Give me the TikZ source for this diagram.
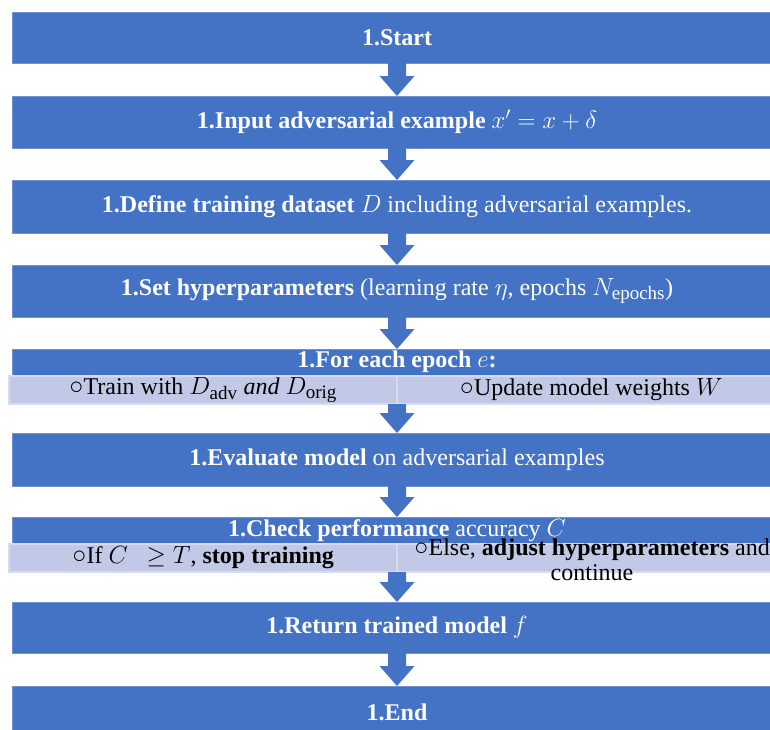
\documentclass[tikz,border=0pt]{standalone}
\usepackage{fontspec}
\usepackage{amsmath}
\setmainfont{Liberation Serif}
\usetikzlibrary{calc}
\definecolor{boxblue}{HTML}{4472C4}
\definecolor{boxedge}{HTML}{6F91D0}
\definecolor{subfill}{HTML}{C1C9E6}
\definecolor{subedge}{HTML}{D6DCF0}
\newcommand{\blockarrow}[2]{%
  \fill[boxblue] ($(#1)+(-9,0)$) -- ($(#2)+(-9,-20)$) -- ($(#2)+(-17.5,-20)$) -- (#2)
    -- ($(#2)+(17.5,-20)$) -- ($(#2)+(9,-20)$) -- ($(#1)+(9,0)$) -- cycle;}
\begin{document}
\begin{tikzpicture}[x=1pt,y=-1pt,
  every node/.style={font=\fontsize{24}{25}\selectfont, inner sep=0pt, outer sep=0pt},
  mainbox/.style={fill=boxblue, draw=boxedge, line width=0.6pt, minimum width=770pt, text=white, anchor=center},
  subcell/.style={fill=subfill, draw=subedge, line width=1.5pt, minimum width=388pt, minimum height=28pt, text=black, anchor=center},
  subtext/.style={text=black, align=center, anchor=center}]
\useasboundingbox (0,0) rectangle (770,729);
\clip (0,0) rectangle (770,729);

\node[mainbox, minimum height=51pt] (b1) at (397,37.5) {\textbf{1.Start}};
\node[mainbox, minimum height=52pt] (b2) at (397,122) {\textbf{1.Input adversarial example} $x' = x + \delta$};
\node[mainbox, minimum height=53pt] (b3) at (397,206.5) {\textbf{1.Define training dataset} $D$ including adversarial examples.};
\node[mainbox, minimum height=52pt] (b4) at (397,291) {\textbf{1.Set hyperparameters} (learning rate $\eta$, epochs $N_{\text{\fontsize{19}{19}\selectfont epochs}}$)};
\node[mainbox, minimum height=26pt] (b5) at (397,362) {\textbf{1.For each epoch} $e$\textbf{:}};
\node[mainbox, minimum height=53pt] (b6) at (397,459.5) {\textbf{1.Evaluate model} on adversarial examples};
\node[mainbox, minimum height=27pt] (b7) at (397,530.5) {\textbf{1.Check performance} accuracy $C$};
\node[mainbox, minimum height=51pt] (b8) at (397,627.5) {\textbf{1.Return trained model} $f$};
\node[mainbox, minimum height=52pt] (b9) at (397,712) {\textbf{1.End}};

\node[subcell] (s5l) at (203,390) {○Train with $D_{\text{\fontsize{19}{19}\selectfont adv}}$ $\mathit{and}$ $D_{\text{\fontsize{19}{19}\selectfont orig}}$};
\node[subcell] (s5r) at (591,390) {○Update model weights $W$};
\node[subcell] (s7l) at (203,558) {○If $C\ \ \geq T$, \textbf{stop training}};
\node[subcell] (s7r) at (591,558) {};
\node[subtext] (t7r) at (592,560) {○Else, \textbf{adjust hyperparameters} and\\continue};

\blockarrow{b1.south}{b2.north}
\blockarrow{b2.south}{b3.north}
\blockarrow{b3.south}{b4.north}
\blockarrow{b4.south}{b5.north}
\blockarrow{s5l.south east}{b6.north}
\blockarrow{b6.south}{b7.north}
\blockarrow{s7l.south east}{b8.north}
\blockarrow{b8.south}{b9.north}
\end{tikzpicture}
\end{document}
